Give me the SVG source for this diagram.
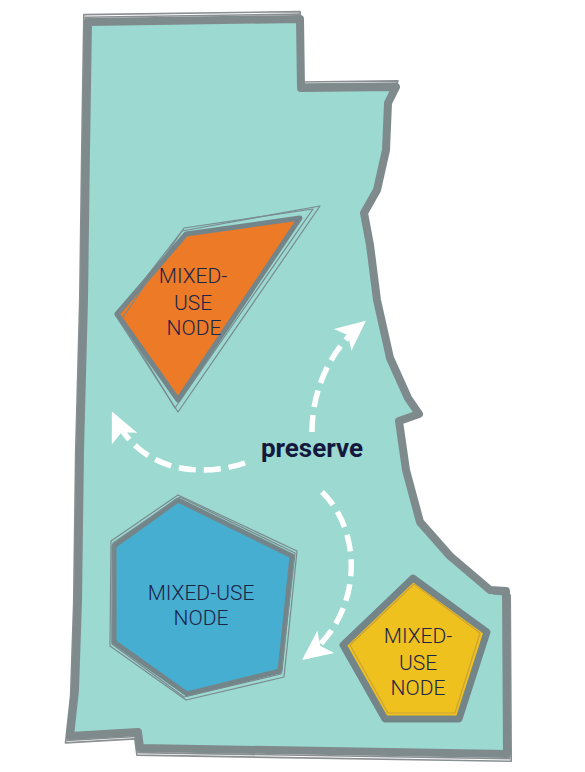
<svg xmlns="http://www.w3.org/2000/svg" width="585" height="772" viewBox="0 0 585 772">
<style>
.fillbg{fill:#9bd9d1}
.thick{fill:none;stroke:#7f8a8c;stroke-width:8;stroke-linejoin:round}
.thin{fill:none;stroke:#8a9092;stroke-width:1.6;stroke-linejoin:round}
.thinw{fill:none;stroke:#ffffff;stroke-width:1.4;stroke-linejoin:round}
.nodeedge{stroke:#74858a;stroke-width:5;stroke-linejoin:round}
.nodethin{fill:none;stroke:#7a8a8e;stroke-width:1.2;stroke-linejoin:round}
.lbl{font-family:Roboto,"Liberation Sans",sans-serif;font-weight:300;font-size:21px;fill:#1c2448;text-anchor:middle}
.arrow{fill:none;stroke:#ffffff;stroke-width:5.5;stroke-dasharray:17 8}
</style>
<defs>
<marker id="ah" markerUnits="userSpaceOnUse" markerWidth="30" markerHeight="30" viewBox="0 0 30 30" refX="25" refY="15" orient="auto">
<path d="M0,1 L30,15 L0,29 L7,15 Z" fill="#ffffff"/>
</marker>
<path id="outline" d="M88,22 L300,19 L301,88 L396,87 L388,103 L386,150 L377,190 L364,213 L370,245 L377,300 L390,358 L408,398 L419,414 L399,421 L406,470 L420,522 L450,556 L490,590 L506,591 L507,754 L140,748 L138,732 L70,736 L75,690 L78,600 L80,450 L84,300 L86,150 Z"/>
</defs>
<g id="district">
<use href="#outline" class="fillbg"/>
<use href="#outline" class="thin" transform="translate(295,390) scale(1.013) translate(-295,-390)"/>
<use href="#outline" class="thinw" transform="translate(295,390) scale(1.007) translate(-295,-390)"/>
<use href="#outline" class="thin" transform="translate(295,390) scale(1.02) translate(-295,-390)"/>
<use href="#outline" class="thick"/>
</g>
<g id="node-orange">
<polygon points="186,234 300,218 178,400 117,314" fill="#ec7a27" class="nodeedge"/>
<polygon points="182,231 320,206 178,412 116,316" class="nodethin"/>
<polygon points="184,228 313,209 175,408 121,320" class="nodethin"/>
<text class="lbl"><tspan x="193" y="283">MIXED-</tspan><tspan x="193" y="310">USE</tspan><tspan x="194" y="335">NODE</tspan></text>
</g>
<g id="node-blue">
<polygon points="178,500 292,556 280,671 187,694 114,642 114,546" fill="#46aed0" class="nodeedge"/>
<polygon points="178,495 297,551 284,677 186,700 110,646 111,541" class="nodethin"/>
<polygon points="180,497 295,553 281,674 184,697 112,644 113,543" class="nodethin"/>
<text class="lbl"><tspan x="201" y="600">MIXED-USE</tspan><tspan x="201" y="625">NODE</tspan></text>
</g>
<g id="node-yellow">
<polygon points="413,578 487,632 459,719 385,719 343,645" fill="#eec11f" class="nodeedge" style="stroke-width:7"/>
<polygon points="414,584 480,633 455,713 388,713 350,645" class="nodethin" style="stroke:#c9a33a"/>
<text class="lbl"><tspan x="418" y="643">MIXED-</tspan><tspan x="418" y="670">USE</tspan><tspan x="418" y="695">NODE</tspan></text>
</g>
<g id="connectors">
<path class="arrow" d="M245,463 C200,478 140,472 114,416" marker-end="url(#ah)"/>
<path class="arrow" d="M312,432 C312,390 330,350 362,324" marker-end="url(#ah)"/>
<path class="arrow" d="M322,492 C362,530 365,612 306,657" marker-end="url(#ah)"/>
</g>
<g id="label">
<text x="312" y="457" font-family="Roboto, 'Liberation Sans', sans-serif" font-weight="700" font-size="26" fill="#14183c" text-anchor="middle">preserve</text>
</g>
</svg>
